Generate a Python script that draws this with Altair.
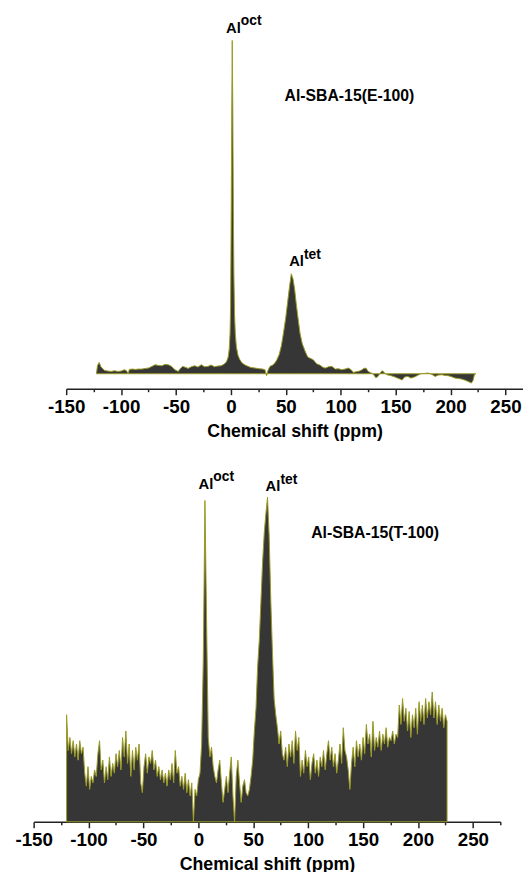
import altair as alt
import pandas as pd

# ---------------- data ----------------
# Top spectrum: Al-SBA-15(E-100)
top_ppm = [-122.5, -121.5, -120, -118.5, -117, -115, -112, -109, -106, -103, -100, -97, -95, -93.6,
           -92.5, -90, -87, -84, -81, -78, -75, -72, -69, -66, -63, -60, -57, -54, -51, -48, -46,
           -44, -41, -39, -36, -33, -30, -27, -24, -21, -18, -15, -12, -9, -6, -4, -2.5, -1.5,
           -0.8, -0.3, 0.2, 0.7, 1.2, 1.7, 2.2, 2.7, 3.3, 4, 5, 6.5, 8, 10, 12.5, 15, 18, 22, 26,
           29, 31, 32.5, 33.5, 35.5, 38, 40, 42, 44, 46, 48, 50, 52, 53.5, 55, 56.5, 58, 59.5, 61,
           63, 65, 67.5, 70, 72.5, 75, 78, 81, 84, 86, 89, 92, 95, 98, 101, 104, 107, 109.5, 111.5,
           114, 117, 119, 121, 123, 125, 128, 130, 132, 134, 136, 138, 140, 142, 145, 148, 151,
           154, 156, 158, 161, 164, 167, 170, 173, 176, 180, 183, 186, 189, 192, 195, 198, 201,
           204, 207, 210, 213, 216, 219, 220.5, 221.7, 223]
top_int = [0, 2.5, 3.4, 2.2, 1.6, 1.0, 0.8, 0.7, 0.9, 0.7, 0.8, 1.2, 0.9, 0,
           1.3, 1.4, 1.3, 1.4, 1.4, 1.6, 1.7, 2.2, 2.7, 2.5, 2.4, 2.8, 2.7, 2.2, 1.2, 0.7, 1.6,
           2.2, 1.9, 1.6, 2.1, 2.4, 2.0, 2.7, 2.1, 2.2, 2.6, 2.1, 2.3, 2.4, 2.9, 3.6, 5.0, 7.5,
           12, 20, 45, 75, 100, 80, 50, 30, 18, 12, 8, 5.5, 4.3, 3.3, 2.7, 2.3, 1.9, 1.7, 1.5,
           1.4, 1.2, -0.6, 0.8, 2.2, 2.6, 3.2, 4.3, 5.8, 8.5, 12.5, 17, 22.5, 26.5, 30, 28.5, 25.5, 21, 17,
           12, 9, 6.8, 5, 4.6, 4.2, 3.0, 2.6, 1.9, 1.7, 2.1, 2.2, 1.4, 1.5, 1.2, 1.4, 1.7, 1.2, 0.4,
           0.6, 0.8, 1.1, 1.6, 1.7, 0.7, 0.2, -0.3, -1.2, -0.8, 0.3, 0.9, 0.2, -0.3, -0.5, -0.8, -1.2,
           -1.6, -1.9, -1.0, -0.8, -1.3, -1.0, -0.5, 0, 0.1, 0.2, -0.2, -0.8, -0.4, -0.3, -0.5, -0.6, -0.9,
           -1.3, -1.4, -1.6, -1.9, -2.3, -2.8, -2.0, -0.3, 0]

# Bottom spectrum: Al-SBA-15(T-100), sampled every 1.5 ppm from -120 ppm
bot_start = -120.0
bot_step = 1.5
bot_int = [33, 22, 26, 21, 25, 20, 24, 19, 25, 21, 23,
           15, 11, 17, 10, 14, 12, 16, 14, 21, 25,
           16, 19, 12, 17, 13, 20, 14, 18, 15, 21,
           17, 22, 16, 26, 20, 28, 18, 24, 14, 22,
           16, 23, 19, 24, 12, 9, 17, 21, 15, 20,
           18, 22, 16, 19, 14, 17, 13, 16, 12, 15,
           11, 16, 13, 18, 12, 22, 15, 17, 11, 14,
           10, 15, 9, 13, 8, 12, 0, 10, 8, 13,
           15, 24, 50, 99, 62, 26, 20, 23, 17, 14,
           12, 16, 19, 12, 6, 10, 14, 9, 15, 20,
           8, 0, 14, 19, 12, 6, 11, 13, 9, 8,
           10, 14, 19, 28, 35, 48, 56, 68, 80, 89,
           95, 100, 88, 68, 52, 38, 33, 29, 24, 28,
           21, 19, 23, 17, 24, 20, 25, 18, 28, 22,
           26, 14, 19, 15, 22, 17, 20, 13, 18, 21,
           15, 19, 14, 20, 17, 22, 16, 21, 25, 19,
           23, 17, 21, 15, 19, 24, 18, 29, 22, 20,
           16, 10, 18, 23, 17, 25, 20, 24, 19, 26,
           21, 30, 24, 27, 20, 31, 22, 26, 23, 28,
           22, 27, 24, 29, 23, 26, 25, 28, 24, 27,
           26, 36, 30, 38, 31, 35, 28, 34, 26, 33,
           29, 35, 27, 37, 31, 36, 30, 38, 32, 37,
           33, 40, 32, 37, 30, 36, 31, 35, 29, 33,
           31]
bot_ppm = [bot_start + bot_step * i for i in range(len(bot_int))]

# Peak annotations (Al + superscript)
top_ann_ppm = [9.0, 66.5]
top_ann_int = [102.2, 32.2]
bot_ann_ppm = [13.6, 74.7]
bot_ann_int = [102.6, 101.8]
ann_base = ["Al", "Al"]
ann_sup = ["oct", "tet"]

# Sample names
top_name = ["Al-SBA-15(E-100)"]
top_name_ppm = [107.9]
top_name_int = [83.3]
bot_name = ["Al-SBA-15(T-100)"]
bot_name_ppm = [161.0]
bot_name_int = [89.0]

top_ticks = [-150, -125, -100, -75, -50, -25, 0, 25, 50, 75, 100, 125, 150, 175, 200, 225, 250]
bot_ticks = top_ticks + [275]

# ---------------- styling ----------------
FONT = "Liberation Sans"
FILL = "#363636"
LINE = "#9a9a24"


def make_axis(values):
    return alt.Axis(
        values=values,
        labelExpr="datum.value % 50 == 0 ? '' + datum.value : ''",
        tickSize={"condition": {"test": "datum.value % 50 != 0", "value": 3}, "value": 6},
        grid=False,
        domainColor="#222222",
        domainWidth=1.5,
        tickColor="#222222",
        tickWidth=1.5,
        labelFont=FONT,
        labelFontSize=19,
        labelFontWeight="bold",
        labelColor="#000000",
        labelPadding=3,
        labelFlush=False,
        labelOverlap=False,
        title="Chemical shift (ppm)",
        titleFont=FONT,
        titleFontSize=18,
        titleFontWeight="bold",
        titleColor="#000000",
        titlePadding=6,
    )


def panel(ppm, inten, xscale, yscale, ticks, ann_ppm, ann_int, name, name_ppm, name_int, width, height):
    x_enc = alt.X("ppm:Q", scale=xscale, axis=make_axis(ticks))
    y_enc = alt.Y("int:Q", scale=yscale, axis=None)

    spec_df = pd.DataFrame({"ppm": ppm, "int": inten})
    area = alt.Chart(spec_df).mark_area(
        fill=FILL, stroke=LINE, strokeWidth=1, interpolate="linear"
    ).encode(x=x_enc, y=y_enc, y2=alt.datum(0))

    ann_df = pd.DataFrame({"ppm": ann_ppm, "int": ann_int, "base": ann_base, "sup": ann_sup})
    base_txt = alt.Chart(ann_df).mark_text(
        align="right", baseline="alphabetic", font=FONT, fontSize=15, fontWeight="bold", color="#000000"
    ).encode(x=x_enc, y=y_enc, text="base:N")
    sup_txt = alt.Chart(ann_df).mark_text(
        align="left", baseline="alphabetic", dy=-8, font=FONT, fontSize=14, fontWeight="bold", color="#000000"
    ).encode(x=x_enc, y=y_enc, text="sup:N")

    name_df = pd.DataFrame({"ppm": name_ppm, "int": name_int, "name": name})
    name_txt = alt.Chart(name_df).mark_text(
        align="center", baseline="middle", font=FONT, fontSize=16, fontWeight="bold", color="#000000"
    ).encode(x=x_enc, y=y_enc, text="name:N")

    return alt.layer(area, base_txt, sup_txt, name_txt).properties(width=width, height=height)


top = panel(
    top_ppm, top_int,
    alt.Scale(domain=[-150, 266], range=[33, 496], nice=False, zero=False),
    alt.Scale(domain=[-4.5, 100], nice=False, zero=False),
    top_ticks, top_ann_ppm, top_ann_int, top_name, top_name_ppm, top_name_int,
    496, 353,
)
bottom = panel(
    bot_ppm, bot_int,
    alt.Scale(domain=[-150, 275], nice=False, zero=False),
    alt.Scale(domain=[0, 100], nice=False, zero=False),
    bot_ticks, bot_ann_ppm, bot_ann_int, bot_name, bot_name_ppm, bot_name_int,
    473, 329,
)

chart = alt.vconcat(top, bottom, spacing=30).properties(
    padding={"left": 6, "top": 0, "right": 0, "bottom": 0}
).configure_view(stroke=None)

chart.save("out.html", embed_options={"renderer": "svg", "actions": False})
